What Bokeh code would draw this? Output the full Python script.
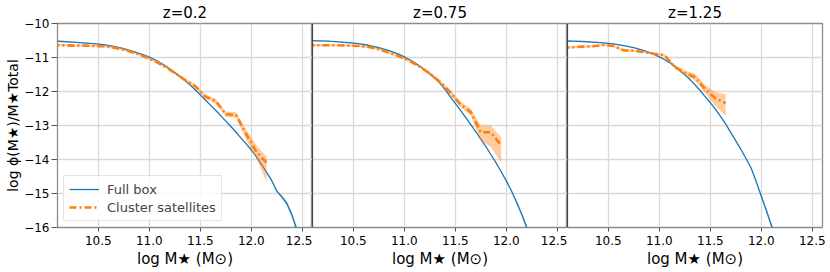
from bokeh.plotting import figure
from bokeh.layouts import row
from bokeh.models import Range1d, Legend, LegendItem, FixedTicker, Span
from bokeh.embed import file_html
from bokeh.resources import INLINE

# ---------------- data ----------------
titles = ["z=0.2", "z=0.75", "z=1.25"]
x_label = "log M\u2605 (M\u2299)"
y_label = "log \u03d5(M\u2605)/M\u2605Total"
x_ticks = [10.5, 11.0, 11.5, 12.0, 12.5]
x_tick_labels = ["10.5", "11.0", "11.5", "12.0", "12.5"]
y_ticks = [-16, -15, -14, -13, -12, -11, -10]
y_tick_labels = ["\u221216", "\u221215", "\u221214", "\u221213", "\u221212", "\u221211", "\u221210"]

# Full box (blue)
full_mass_z02 = [10.05, 10.15, 10.25, 10.35, 10.45, 10.55, 10.65, 10.75, 10.85, 10.95, 11.0, 11.05, 11.1, 11.15,
                 11.2, 11.25, 11.3, 11.35, 11.4, 11.45, 11.5, 11.55, 11.6, 11.65, 11.7, 11.75, 11.8, 11.85, 11.9,
                 11.95, 12.0, 12.05, 12.1, 12.15, 12.2, 12.25, 12.3, 12.35, 12.4, 12.45, 12.5]
full_phi_z02 = [-10.51, -10.53, -10.55, -10.57, -10.59, -10.62, -10.67, -10.74, -10.83, -10.93, -10.99, -11.06,
                -11.14, -11.23, -11.33, -11.44, -11.56, -11.68, -11.81, -11.95, -12.1, -12.25, -12.4, -12.55,
                -12.71, -12.87, -13.03, -13.2, -13.37, -13.54, -13.72, -13.92, -14.14, -14.38, -14.62, -14.93,
                -15.1, -15.3, -15.65, -16.1, -16.6]
full_err_z02 = [0.01] * 33 + [0.02, 0.03, 0.04, 0.05, 0.07, 0.08, 0.1, 0.12]

full_mass_z075 = [10.05, 10.15, 10.25, 10.35, 10.45, 10.55, 10.65, 10.75, 10.85, 10.95, 11.0, 11.05, 11.1, 11.15,
                  11.2, 11.25, 11.3, 11.35, 11.4, 11.45, 11.5, 11.55, 11.6, 11.65, 11.7, 11.75, 11.8, 11.85, 11.9,
                  11.95, 12.0, 12.05, 12.1, 12.15, 12.2, 12.25]
full_phi_z075 = [-10.50, -10.51, -10.52, -10.54, -10.56, -10.59, -10.64, -10.71, -10.8, -10.91, -10.98, -11.06,
                 -11.15, -11.25, -11.36, -11.48, -11.61, -11.76, -11.94, -12.15, -12.35, -12.55, -12.76, -12.97,
                 -13.18, -13.4, -13.62, -13.86, -14.1, -14.36, -14.63, -14.92, -15.25, -15.6, -16.0, -16.4]
full_err_z075 = [0.01] * 30 + [0.02, 0.03, 0.05, 0.06, 0.07, 0.08]

full_mass_z125 = [10.05, 10.15, 10.25, 10.35, 10.45, 10.55, 10.65, 10.75, 10.85, 10.95, 11.0, 11.05, 11.1, 11.15,
                  11.2, 11.25, 11.3, 11.35, 11.4, 11.45, 11.5, 11.55, 11.6, 11.65, 11.7, 11.75, 11.8, 11.85, 11.9,
                  11.95, 12.0, 12.05, 12.1, 12.15]
full_phi_z125 = [-10.51, -10.52, -10.53, -10.55, -10.57, -10.6, -10.65, -10.71, -10.8, -10.91, -10.98, -11.06,
                 -11.15, -11.26, -11.38, -11.51, -11.65, -11.8, -11.97, -12.15, -12.33, -12.52, -12.73, -12.95,
                 -13.2, -13.45, -13.7, -13.97, -14.25, -14.65, -15.08, -15.5, -15.95, -16.4]
full_err_z125 = [0.01] * 28 + [0.02, 0.03, 0.05, 0.06, 0.07, 0.08]

# Cluster satellites (orange)
sat_mass_z02 = [10.05, 10.15, 10.25, 10.35, 10.45, 10.55, 10.65, 10.75, 10.85, 10.95, 11.05, 11.15, 11.25, 11.35,
                11.45, 11.55, 11.65, 11.75, 11.85, 11.95, 12.05, 12.15]
sat_phi_z02 = [-10.64, -10.64, -10.65, -10.65, -10.66, -10.67, -10.71, -10.77, -10.86, -10.97, -11.1, -11.26,
               -11.45, -11.66, -11.84, -12.15, -12.28, -12.67, -12.69, -13.25, -13.77, -14.1]
sat_hi_z02 = [-10.61, -10.61, -10.62, -10.62, -10.63, -10.64, -10.68, -10.74, -10.83, -10.94, -11.07, -11.22,
              -11.41, -11.62, -11.79, -12.09, -12.21, -12.59, -12.61, -13.12, -13.58, -13.92]
sat_lo_z02 = [-10.67, -10.67, -10.68, -10.68, -10.69, -10.70, -10.74, -10.80, -10.89, -11.0, -11.13, -11.3,
              -11.49, -11.7, -11.89, -12.21, -12.35, -12.75, -12.77, -13.42, -13.98, -14.66]

sat_mass_z075 = [10.05, 10.15, 10.25, 10.35, 10.45, 10.55, 10.65, 10.75, 10.85, 10.95, 11.05, 11.15, 11.25, 11.35,
                 11.45, 11.55, 11.65, 11.75, 11.85, 11.95]
sat_phi_z075 = [-10.64, -10.64, -10.64, -10.64, -10.65, -10.66, -10.69, -10.76, -10.86, -10.97, -11.1, -11.27,
                -11.47, -11.72, -12.02, -12.38, -12.6, -13.2, -13.2, -13.59]
sat_hi_z075 = [-10.61, -10.61, -10.61, -10.61, -10.62, -10.63, -10.66, -10.73, -10.83, -10.94, -11.07, -11.23,
               -11.42, -11.66, -11.95, -12.3, -12.5, -13.0, -13.0, -13.35]
sat_lo_z075 = [-10.67, -10.67, -10.67, -10.67, -10.68, -10.69, -10.72, -10.79, -10.89, -11.0, -11.13, -11.31,
               -11.52, -11.78, -12.09, -12.46, -12.7, -13.44, -13.63, -14.1]

sat_mass_z125 = [10.05, 10.15, 10.25, 10.35, 10.45, 10.55, 10.65, 10.75, 10.85, 10.95, 11.05, 11.15, 11.25, 11.35,
                 11.45, 11.55, 11.65]
sat_phi_z125 = [-10.71, -10.7, -10.68, -10.67, -10.63, -10.66, -10.79, -10.8, -10.84, -10.89, -10.93, -11.27,
                -11.45, -11.58, -11.93, -12.2, -12.34]
sat_hi_z125 = [-10.68, -10.67, -10.65, -10.64, -10.6, -10.63, -10.76, -10.77, -10.81, -10.86, -10.89, -11.21,
               -11.38, -11.48, -11.81, -12.02, -12.08]
sat_lo_z125 = [-10.74, -10.73, -10.71, -10.7, -10.66, -10.69, -10.82, -10.83, -10.87, -10.92, -10.97, -11.33,
               -11.52, -11.68, -12.05, -12.42, -12.72]

# ---------------- styling ----------------
BLUE = "#1f77b4"
ORANGE = "#ff7f0e"
FONT = "DejaVu Sans"
FRAME_W = 255

panels = [
    (full_mass_z02, full_phi_z02, full_err_z02, sat_mass_z02, sat_phi_z02, sat_lo_z02, sat_hi_z02),
    (full_mass_z075, full_phi_z075, full_err_z075, sat_mass_z075, sat_phi_z075, sat_lo_z075, sat_hi_z075),
    (full_mass_z125, full_phi_z125, full_err_z125, sat_mass_z125, sat_phi_z125, sat_lo_z125, sat_hi_z125),
]

figs = []
for i, (fm, fp, fe, sm, sp, slo, shi) in enumerate(panels):
    left = 57 if i == 0 else 0
    right = 6 if i == 2 else 0
    p = figure(width=FRAME_W + left + right, height=270,
               x_range=Range1d(10.1, 12.6), y_range=Range1d(-16, -10),
               output_backend="svg", toolbar_location=None,
               y_axis_location="left" if i == 0 else None,
               min_border_left=left, min_border_right=right, min_border_top=0, min_border_bottom=41,
               title=titles[i])
    p.title.text_font = FONT
    p.title.text_font_size = "15px"
    p.title.text_font_style = "normal"
    p.title.text_color = "black"
    p.title.align = "center"
    p.title.standoff = 3
    p.title.offset = 0

    p.background_fill_color = "white"
    p.border_fill_color = "white"
    p.outline_line_color = "#8c8c8c"
    p.outline_line_width = 1.3

    p.xaxis.ticker = FixedTicker(ticks=x_ticks)
    p.xaxis.major_label_overrides = {t: l for t, l in zip(x_ticks, x_tick_labels)}
    p.xaxis.major_label_text_font = FONT
    p.xaxis.major_label_text_font_size = "12px"
    p.xaxis.major_label_text_color = "black"
    p.xaxis.axis_line_color = None
    p.xaxis.major_tick_line_color = "#555555"
    p.xaxis.major_tick_out = 4
    p.xaxis.major_tick_in = 0
    p.xaxis.minor_tick_line_color = None
    p.xaxis.major_label_standoff = 4
    p.xaxis.axis_label = x_label
    p.xaxis.axis_label_text_font = FONT
    p.xaxis.axis_label_text_font_size = "15px"
    p.xaxis.axis_label_text_font_style = "normal"
    p.xaxis.axis_label_text_color = "black"
    p.xaxis.axis_label_standoff = 2

    p.xgrid.ticker = FixedTicker(ticks=x_ticks)
    p.xgrid.grid_line_color = "#d9d9d9"
    p.xgrid.grid_line_width = 1.3
    p.ygrid.ticker = FixedTicker(ticks=y_ticks)
    p.ygrid.grid_line_color = "#d9d9d9"
    p.ygrid.grid_line_width = 1.3
    if i == 0:
        p.yaxis.ticker = FixedTicker(ticks=y_ticks)
        p.yaxis.major_label_overrides = {t: l for t, l in zip(y_ticks, y_tick_labels)}
        p.yaxis.major_label_text_font = FONT
        p.yaxis.major_label_text_font_size = "12px"
        p.yaxis.major_label_text_color = "black"
        p.yaxis.axis_line_color = None
        p.yaxis.major_tick_line_color = "#555555"
        p.yaxis.major_tick_out = 6
        p.yaxis.major_tick_in = 0
        p.yaxis.minor_tick_line_color = None
        p.yaxis.major_label_standoff = 2
        p.yaxis.axis_label = y_label
        p.yaxis.axis_label_text_font = FONT
        p.yaxis.axis_label_text_font_size = "14px"
        p.yaxis.axis_label_text_font_style = "normal"
        p.yaxis.axis_label_text_color = "black"
        p.yaxis.axis_label_standoff = 0
    else:
        p.add_layout(Span(location=10.1, dimension="height", line_color="black", line_width=1))

    lo_f = [v - e for v, e in zip(fp, fe)]
    hi_f = [v + e for v, e in zip(fp, fe)]
    p.varea(x=fm, y1=lo_f, y2=hi_f, fill_color=BLUE, fill_alpha=0.35)
    rb = p.line(fm, fp, line_color=BLUE, line_width=1.3)
    p.varea(x=sm, y1=slo, y2=shi, fill_color=ORANGE, fill_alpha=0.4)
    ro = p.line(sm, sp, line_color=ORANGE, line_width=2.6, line_dash="7 3 2 3")

    if i == 0:
        legend = Legend(items=[LegendItem(label="Full box", renderers=[rb]),
                               LegendItem(label="Cluster satellites", renderers=[ro])],
                        location="bottom_left")
        legend.margin = 6
        legend.padding = 5
        legend.spacing = 2
        legend.glyph_width = 30
        legend.glyph_height = 16
        legend.label_height = 16
        legend.label_standoff = 8
        legend.label_text_font = FONT
        legend.label_text_font_size = "13px"
        legend.border_line_color = "#cccccc"
        legend.border_line_width = 1
        legend.background_fill_alpha = 0.8
        p.add_layout(legend)
    figs.append(p)

layout = row(*figs, spacing=0)
open("out.html", "w").write(file_html(layout, INLINE))
